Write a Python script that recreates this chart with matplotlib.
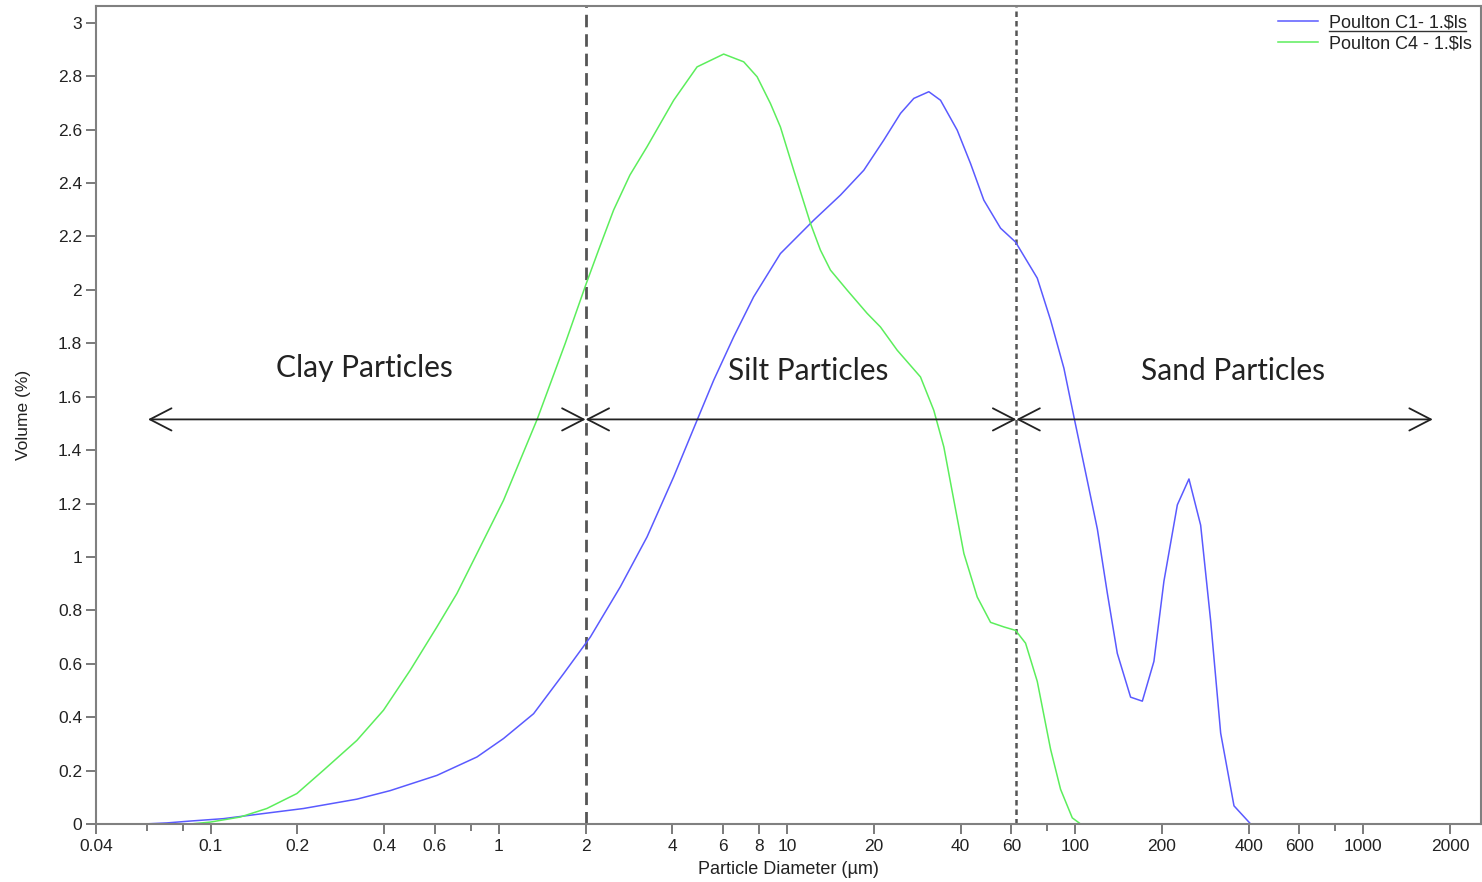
import matplotlib
matplotlib.use("Agg")
import matplotlib.pyplot as plt
from matplotlib.lines import Line2D
import numpy as np

# ---- data ----
c1_x = [0.0584, 0.0704, 0.0848, 0.1107, 0.1446, 0.2099, 0.3216, 0.4197, 0.6097, 0.8396,
        1.038, 1.320, 1.678, 2.077, 2.639, 3.268, 4.043, 4.874, 5.567, 6.53, 7.66, 9.486,
        12.38, 15.33, 18.47, 21.67, 24.77, 27.54, 31.05, 34.10, 38.96, 43.34, 48.19, 55.08,
        62.11, 73.86, 82.15, 91.37, 98.97, 110.2, 119.4, 129.3, 140.0, 155.7, 171.0, 187.6,
        203.2, 226.2, 248.2, 272.5, 295.3, 319.8, 355.7, 406.4]
c1_y = [0.0, 0.004, 0.011, 0.020, 0.036, 0.058, 0.093, 0.125, 0.182, 0.251,
        0.320, 0.413, 0.563, 0.700, 0.888, 1.075, 1.300, 1.512, 1.662, 1.824, 1.974, 2.136,
        2.261, 2.355, 2.448, 2.561, 2.661, 2.717, 2.742, 2.710, 2.598, 2.473, 2.336, 2.231,
        2.179, 2.044, 1.887, 1.707, 1.525, 1.285, 1.104, 0.864, 0.639, 0.475, 0.460, 0.609,
        0.909, 1.195, 1.292, 1.119, 0.759, 0.340, 0.068, 0.0]

c4_x = [0.0848, 0.0995, 0.1265, 0.1566, 0.1991, 0.2461, 0.3216, 0.3978, 0.4926, 0.6097,
        0.7152, 0.8396, 1.038, 1.359, 1.70, 2.0, 2.22, 2.502, 2.85, 3.268, 4.043, 4.874,
        6.028, 7.074, 7.875, 8.758, 9.486, 10.55, 12.06, 13.06, 14.15, 16.17, 18.97, 21.10,
        24.12, 29.05, 32.31, 35.01, 37.93, 41.09, 45.72, 50.86, 56.55, 62.11, 67.27, 73.86,
        82.15, 88.97, 97.70, 104.4]
c4_y = [0.0, 0.007, 0.026, 0.058, 0.114, 0.201, 0.313, 0.426, 0.576, 0.738,
        0.863, 1.013, 1.212, 1.516, 1.800, 2.017, 2.150, 2.299, 2.430, 2.536, 2.710, 2.835,
        2.883, 2.854, 2.798, 2.698, 2.610, 2.448, 2.249, 2.149, 2.074, 1.999, 1.912, 1.861,
        1.774, 1.674, 1.549, 1.412, 1.212, 1.013, 0.850, 0.755, 0.738, 0.725, 0.677, 0.534,
        0.280, 0.130, 0.023, 0.0]

labels = ["Poulton C1- 1.\\$ls", "Poulton C4 - 1.\\$ls"]
xticks_major = [0.04, 0.1, 0.2, 0.4, 0.6, 1, 2, 4, 6, 8, 10, 20, 40, 60, 100, 200, 400, 600, 1000, 2000]
xtick_labels = ["0.04", "0.1", "0.2", "0.4", "0.6", "1", "2", "4", "6", "8", "10", "20", "40",
                "60", "100", "200", "400", "600", "1000", "2000"]
xticks_minor = [0.06, 0.08, 0.8, 80, 800]
yticks = [0, 0.2, 0.4, 0.6, 0.8, 1, 1.2, 1.4, 1.6, 1.8, 2, 2.2, 2.4, 2.6, 2.8, 3]
ytick_labels = ["0", "0.2", "0.4", "0.6", "0.8", "1", "1.2", "1.4", "1.6", "1.8", "2",
                "2.2", "2.4", "2.6", "2.8", "3"]

boundaries = [2, 62.5]
arrow_y = 1.515
arrow_left, arrow_right = 0.0606, 1742
region_names = ["Clay Particles", "Silt Particles", "Sand Particles"]
region_text_x = [0.341, 11.87, 352]
region_text_y = [1.707, 1.696, 1.696]

# ---- figure ----
plt.rcParams['font.family'] = ['Liberation Sans', 'DejaVu Sans']
fig = plt.figure(figsize=(14.82, 8.82), dpi=100)
ax = fig.add_axes([96 / 1482, 58 / 882, (1481 - 96) / 1482, (824 - 6) / 882])

ax.plot(c1_x, c1_y, color='#5a5aff', lw=1.1, label=labels[0])
ax.plot(c4_x, c4_y, color='#5cee5c', lw=1.1, label=labels[1])

ax.set_xscale('log')
ax.set_xlim(0.04, 2560)
ax.set_ylim(0, 3.063)

ax.set_xticks(xticks_major)
ax.set_xticklabels(xtick_labels)
ax.set_xticks(xticks_minor, minor=True)
ax.xaxis.set_minor_formatter(matplotlib.ticker.NullFormatter())
ax.set_yticks(yticks)
ax.set_yticklabels(ytick_labels)

for sp in ax.spines.values():
    sp.set_color('#808080')
    sp.set_linewidth(1.5)
ax.tick_params(axis='both', which='major', direction='out', length=7, width=1.3,
               color='#707070', labelsize=12.5, labelcolor='#222222', pad=3)
ax.tick_params(axis='x', which='major', pad=4)
ax.tick_params(axis='x', which='minor', direction='out', length=5, width=1.3, color='#707070')

ax.set_xlabel("Particle Diameter (µm)", fontsize=13, color='#222222', labelpad=5)
ax.set_ylabel("Volume (%)", fontsize=12.5, color='#222222', labelpad=19)

# boundary lines
ax.axvline(boundaries[0], color='#555555', lw=2.0, dashes=(4.5, 2.5), zorder=1)
ax.axvline(boundaries[1], color='#555555', lw=1.8, dashes=(2.2, 1.6), zorder=1)

# arrows
edges = [arrow_left, boundaries[0], boundaries[1], arrow_right]
for a, b in zip(edges[:-1], edges[1:]):
    ax.annotate('', xy=(b, arrow_y), xytext=(a, arrow_y),
                arrowprops=dict(arrowstyle='<->,head_length=1.55,head_width=0.8',
                                color='#222222', lw=1.3, shrinkA=0, shrinkB=0,
                                mutation_scale=10))
for name, tx, ty in zip(region_names, region_text_x, region_text_y):
    ax.text(tx, ty, name, ha='center', va='center', fontsize=21.5, family=['Lato', 'DejaVu Sans'],
            color='#222222')

leg = ax.legend(loc='upper right', bbox_to_anchor=(0.999, 1.0), frameon=False, fontsize=13,
                handlelength=2.2, handletextpad=0.6, labelspacing=0.25, borderaxespad=0.05)
for t in leg.get_texts():
    t.set_color('#222222')

fig.canvas.draw()
bb = leg.get_texts()[0].get_window_extent()
fig.add_artist(Line2D([bb.x0 / 1482, bb.x1 / 1482], [(bb.y0 + 0) / 882, (bb.y0 + 0) / 882],
                      color='#333333', lw=1.0))

fig.savefig('out.png', dpi=100)
